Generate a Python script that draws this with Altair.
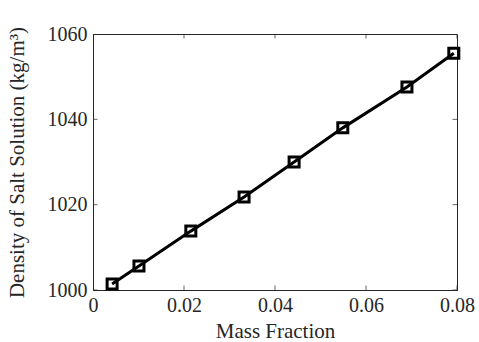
import altair as alt
import pandas as pd

mass_fraction = [0.0042, 0.0101, 0.0215, 0.0332, 0.0442, 0.0549, 0.0690, 0.0793]
density = [1001.4, 1005.6, 1013.8, 1021.8, 1030.0, 1038.0, 1047.6, 1055.5]
x_ticks = [0, 0.02, 0.04, 0.06, 0.08]
y_ticks = [1000, 1020, 1040, 1060]

df = pd.DataFrame({"x": mass_fraction, "y": density})
FONT = "Liberation Serif"
XD = [0, 0.08]
YD = [1000, 1060]

xs = alt.Scale(domain=XD, nice=False, zero=False)
ys = alt.Scale(domain=YD, nice=False, zero=False)

xaxis = alt.Axis(values=x_ticks, format="~g", ticks=False, grid=False, labelFontSize=20,
                 titleFontSize=21, labelFont=FONT, titleFont=FONT, labelColor="#262626",
                 titleColor="#262626", titleFontWeight="normal", labelPadding=5, titlePadding=5,
                 domainColor="#262626", labelFlush=False)
yaxis = alt.Axis(values=y_ticks, format="d", ticks=False, grid=False, labelFontSize=20,
                 titleFontSize=21, labelFont=FONT, titleFont=FONT, labelColor="#262626",
                 titleColor="#262626", titleFontWeight="normal", labelPadding=6, titlePadding=20,
                 domainColor="#262626", labelFlush=False)

base = alt.Chart(df)
line = base.mark_line(color="black", strokeWidth=3).encode(
    x=alt.X("x:Q", scale=xs, axis=xaxis, title="Mass Fraction"),
    y=alt.Y("y:Q", scale=ys, axis=yaxis, title="Density of Salt Solution (kg/m³)"),
)
pts = base.mark_point(shape="square", filled=False, color="black", strokeWidth=3, size=100, opacity=1).encode(
    x=alt.X("x:Q", scale=xs), y=alt.Y("y:Q", scale=ys)
)

xt = pd.DataFrame([{"x": v, "y": yy} for v in x_ticks for yy in YD])
yt = pd.DataFrame([{"x": xx, "y": v} for v in y_ticks for xx in XD])
xticks = alt.Chart(xt).mark_tick(orient="vertical", size=9, thickness=1, color="#262626", clip=True).encode(
    x=alt.X("x:Q", scale=xs), y=alt.Y("y:Q", scale=ys))
yticks = alt.Chart(yt).mark_tick(orient="horizontal", size=9, thickness=1, color="#262626", clip=True).encode(
    x=alt.X("x:Q", scale=xs), y=alt.Y("y:Q", scale=ys))

chart = alt.layer(xticks, yticks, line, pts).properties(
    width=364, height=256,
    padding={"left": 93, "top": 34, "right": 22, "bottom": 52},
    autosize="none",
    background="white",
).configure_view(stroke="#262626", strokeWidth=1)

chart.save("out.html", embed_options={"renderer": "svg", "actions": False})
